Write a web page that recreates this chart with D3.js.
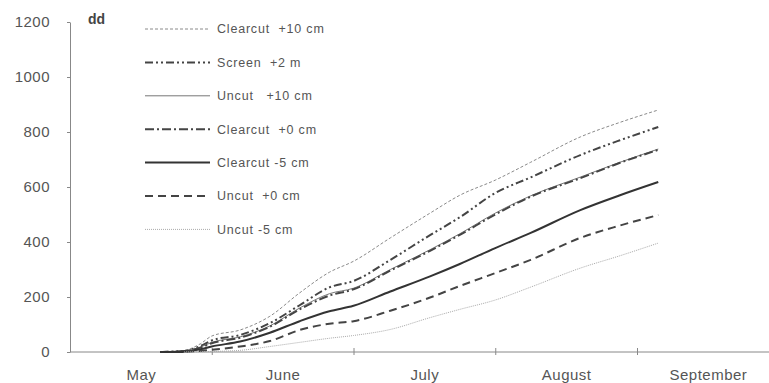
<!DOCTYPE html>
<html>
<head>
<meta charset="utf-8">
<script src="https://cdn.jsdelivr.net/npm/d3@7"></script>
<style>
    body { margin: 0; background: #fff; }
    svg { display: block; font-family: "Liberation Sans", Arial, sans-serif; }
    .axis path, .axis line { stroke: #888; }
    .axis text { fill: #555; font-size: 15px; letter-spacing: 0.5px; }
</style>
</head>
<body>
<main></main>
<script>
// x positions in months after 1 May (0 = 1 May, 1 = 1 June, ...)
const monthX = [0.635, 0.8, 0.92, 1.0, 1.2, 1.41, 1.62, 1.83, 2.0, 2.26, 2.54, 2.75, 3.0, 3.25, 3.6, 3.88, 4.15];

const clearcut10 = [0, 5, 30, 58, 80, 130, 215, 290, 330, 415, 505, 570, 625, 690, 782, 835, 880];
const screen2m   = [0, 3, 22, 42, 62, 105, 170, 235, 258, 335, 425, 490, 578, 635, 716, 770, 818];
const uncut10    = [0, 3, 18, 35, 55, 95, 160, 212, 232, 300, 372, 430, 505, 568, 636, 690, 738];
const clearcut0  = [0, 3, 16, 32, 52, 92, 155, 205, 228, 296, 368, 426, 500, 565, 632, 688, 735];
const clearcutM5 = [0, 2, 10, 20, 38, 70, 112, 148, 168, 220, 275, 320, 378, 433, 516, 570, 618];
const uncut0     = [0, 1, 4, 8, 20, 40, 80, 103, 112, 150, 198, 240, 287, 335, 415, 460, 498];
const uncutM5    = [0, 0, 1, 2, 6, 20, 35, 50, 60, 82, 125, 155, 189, 236, 305, 350, 396];

const seriesNames = ["Clearcut  +10 cm", "Screen  +2 m", "Uncut   +10 cm", "Clearcut  +0 cm", "Clearcut -5 cm", "Uncut  +0 cm", "Uncut -5 cm"];
const seriesValues = [clearcut10, screen2m, uncut10, clearcut0, clearcutM5, uncut0, uncutM5];

const months = ["May", "June", "July", "August", "September"];
const yTicks = [0, 200, 400, 600, 800, 1000, 1200];

const styles = [
    { stroke: "#8a8a8a", width: 1, dash: "3,2" },
    { stroke: "#444", width: 2, dash: "8,3,2,3,2,3" },
    { stroke: "#777", width: 1, dash: null },
    { stroke: "#444", width: 2, dash: "9,3,2,3" },
    { stroke: "#333", width: 2, dash: null },
    { stroke: "#444", width: 2, dash: "8,5" },
    { stroke: "#aaa", width: 1, dash: "1,1" }
];

const WIDTH = 769, HEIGHT = 383;
const LEFT = 70, BOTTOM = 352, TOP = 22;

const svg = d3.select("main").append("svg")
    .attr("width", WIDTH)
    .attr("height", HEIGHT);

const xScale = d3.scaleLinear().domain([0, 5]).range([LEFT, LEFT + 5 * 141.75]);
const yScale = d3.scaleLinear().domain([0, 1200]).range([BOTTOM, TOP]);

// y axis
svg.append("g")
    .attr("class", "axis")
    .attr("transform", `translate(${LEFT}, 0)`)
    .call(d3.axisLeft(yScale).tickValues(yTicks).tickFormat(d3.format("d"))
        .tickSize(3).tickSizeOuter(0).tickPadding(17));

// x axis line with month boundary ticks
svg.append("g")
    .attr("class", "axis")
    .attr("transform", `translate(0, ${BOTTOM})`)
    .call(d3.axisBottom(xScale).tickValues([1, 2, 3, 4]).tickSize(3).tickSizeOuter(0).tickFormat(""))
    .call(g => g.select(".domain").attr("d", `M${LEFT},0H${WIDTH}`))
    .call(g => g.selectAll(".tick line").attr("y1", -4).attr("y2", 3));

// month labels centred between boundaries
svg.append("g")
    .attr("class", "axis")
    .attr("transform", `translate(0, ${BOTTOM})`)
    .call(d3.axisBottom(xScale).tickValues([0.5, 1.5, 2.5, 3.5, 4.5]).tickSize(0).tickPadding(17)
        .tickFormat((d, i) => months[i]))
    .call(g => g.select(".domain").remove());

svg.append("text")
    .attr("x", 88)
    .attr("y", 24)
    .attr("font-size", 14)
    .attr("font-weight", "bold")
    .attr("fill", "#444")
    .text("dd");

const line = d3.line()
    .x((d, i) => xScale(monthX[i]))
    .y(d => yScale(d))
    .curve(d3.curveMonotoneX);

seriesValues.forEach((values, i) => {
    svg.append("path")
        .datum(values)
        .attr("fill", "none")
        .attr("stroke", styles[i].stroke)
        .attr("stroke-width", styles[i].width)
        .attr("stroke-dasharray", styles[i].dash)
        .attr("d", line);
});

// flat start of the curves along the baseline
svg.append("line")
    .attr("x1", xScale(monthX[0]))
    .attr("x2", xScale(monthX[1]))
    .attr("y1", yScale(0))
    .attr("y2", yScale(0))
    .attr("stroke", "#333")
    .attr("stroke-width", 2);

// legend
const legend = svg.append("g");
seriesNames.forEach((name, i) => {
    const y = 29 + i * 33.4;
    legend.append("line")
        .attr("x1", 145).attr("x2", 210)
        .attr("y1", y).attr("y2", y)
        .attr("stroke", styles[i].stroke)
        .attr("stroke-width", styles[i].width)
        .attr("stroke-dasharray", styles[i].dash);
    legend.append("text")
        .attr("x", 217)
        .attr("y", y)
        .attr("dy", "0.35em")
        .attr("font-size", 12.5)
        .attr("letter-spacing", 0.8)
        .attr("fill", "#555")
        .style("white-space", "pre")
        .text(name);
});
</script>
</body>
</html>
